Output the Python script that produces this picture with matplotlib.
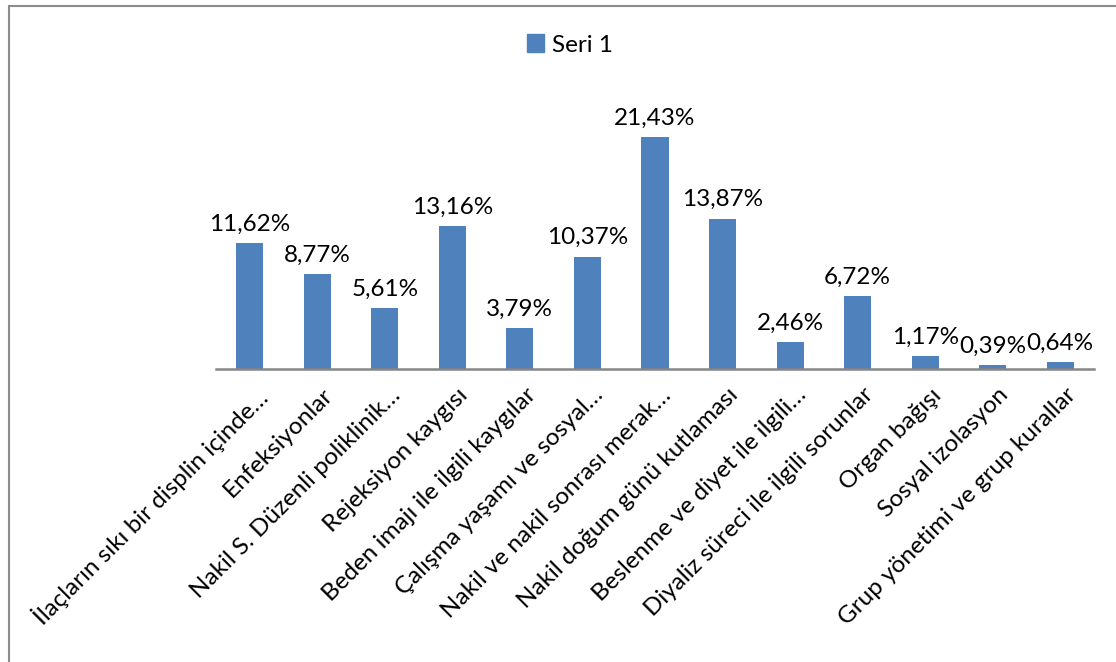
import matplotlib.pyplot as plt
import matplotlib.patches as mpatches
import matplotlib.transforms as mtransforms

# data
categories = [
    "İlaçların sıkı bir displin içinde…",
    "Enfeksiyonlar",
    "Nakil S. Düzenli poliklinik…",
    "Rejeksiyon kaygısı",
    "Beden imajı ile ilgili kaygılar",
    "Çalışma yaşamı ve sosyal…",
    "Nakil ve nakil sonrası merak…",
    "Nakil doğum günü kutlaması",
    "Beslenme ve diyet ile ilgili…",
    "Diyaliz süreci ile ilgili sorunlar",
    "Organ bağışı",
    "Sosyal izolasyon",
    "Grup yönetimi ve grup kurallar",
]
values = [11.62, 8.77, 5.61, 13.16, 3.79, 10.37, 21.43, 13.87, 2.46, 6.72, 1.17, 0.39, 0.64]
series_name = "Seri 1"

plt.rcParams['font.family'] = ['Lato', 'DejaVu Sans']
fs = 17.5

W, H = 1116, 662
fig = plt.figure(figsize=(W / 100, H / 100), dpi=100)

# axes placed in pixel terms
left, right, base, top = 216, 1094, 369, 98
ax = fig.add_axes([left / W, 1 - base / H, (right - left) / W, (base - top) / H])

x = range(len(values))
bars = ax.bar(x, values, width=0.4, color="#4F81BD", label=series_name)
ax.set_xlim(-0.5, len(values) - 0.5)
ax.set_ylim(0, 25)

for b, v in zip(bars, values):
    ax.annotate(f"{v:.2f}%".replace(".", ","), (b.get_x() + b.get_width() / 2, v),
                xytext=(0, 6), textcoords="offset points", ha="center", va="bottom",
                fontsize=fs)

for s in ["top", "right", "left"]:
    ax.spines[s].set_visible(False)
ax.spines["bottom"].set_color("#868686")
ax.spines["bottom"].set_linewidth(1.8)
ax.set_yticks([])
ax.set_xticks(list(x))
ax.set_xticklabels(categories, rotation=45, ha="right", rotation_mode="anchor", fontsize=fs)
ax.tick_params(axis="x", length=0, pad=11)
offset = mtransforms.ScaledTranslation(5 / 100, 0, fig.dpi_scale_trans)
for lbl in ax.get_xticklabels():
    lbl.set_transform(lbl.get_transform() + offset)

fig.legend(handles=[mpatches.Patch(color="#4F81BD", label=series_name)],
           loc="center", bbox_to_anchor=(570 / W, 1 - 45 / H), frameon=False,
           fontsize=fs, handlelength=0.7, handleheight=0.7, handletextpad=0.3)

# outer frame of the chart area
frame = mpatches.Rectangle((8.5 / W, -0.1), 1.2, 1 - 5.5 / H + 0.1, transform=fig.transFigure,
                           fill=False, edgecolor="#8C8C8C", linewidth=1.5)
fig.patches.append(frame)

fig.savefig("out.png", dpi=100)
